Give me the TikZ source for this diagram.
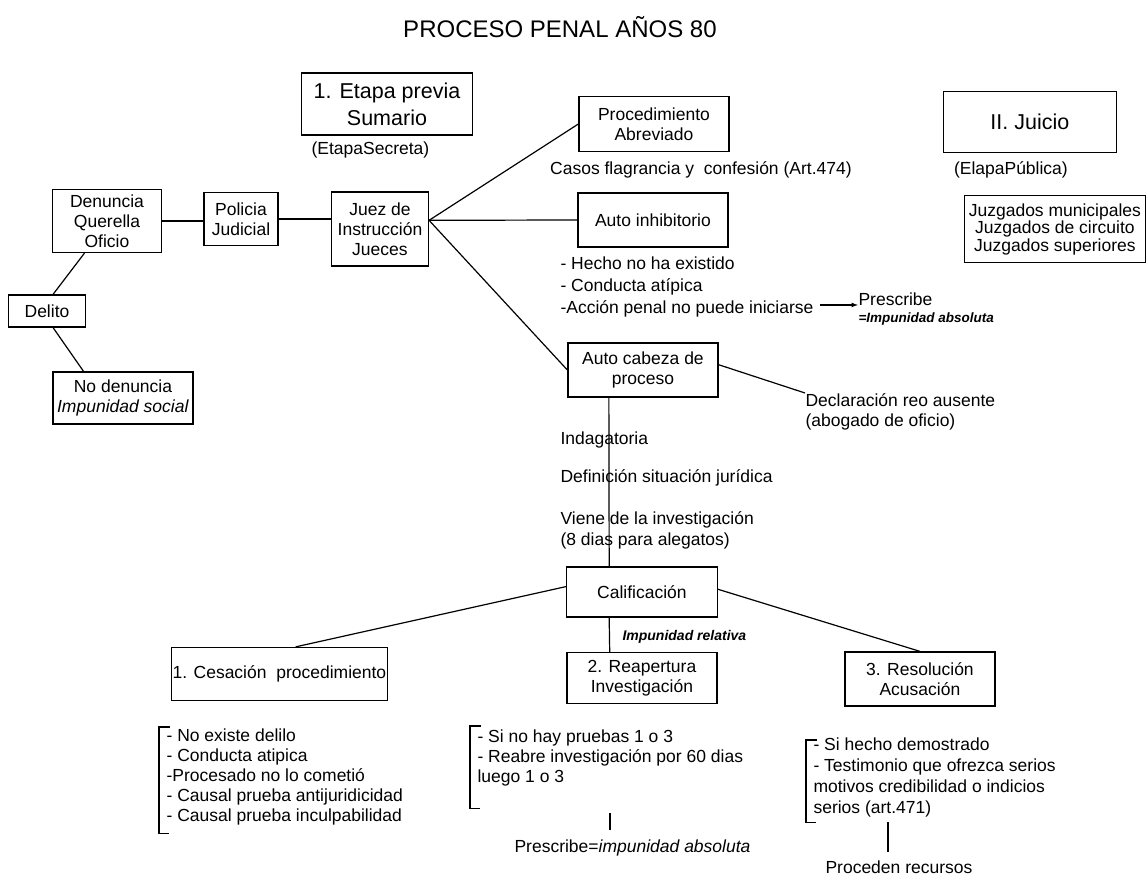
\documentclass[tikz,border=0pt]{standalone}
\usepackage{fontspec}
\setmainfont{Liberation Sans}
\begin{document}
\begin{tikzpicture}[x=1pt, y=-1pt, line width=1.2pt,
    font=\fontsize{17.5}{20}\selectfont,
    box/.style = {draw, align=center, inner sep=1pt},
    txt/.style = {inner sep=0pt, align=left},
    big/.style = {font=\fontsize{21.5}{27}\selectfont},
    imp/.style = {inner sep=0pt, font=\fontsize{14}{16}\selectfont\bfseries\itshape}]
  \fill[white] (0,0) rectangle (1146,878);
  \node[font=\fontsize{24}{28}\selectfont] (title) at (560,27) {PROCESO PENAL AÑOS 80};

  % etapa previa
  \node[box, big, minimum width=171, minimum height=62] (etapa) at (387,104) {1. Etapa previa\\Sumario};
  \node[txt, anchor=west] (secreta) at (311,150) {(EtapaSecreta)};
  \node[box, minimum width=181, minimum height=67, font=\fontsize{17.5}{17.5}\selectfont] (juzg) at (1055,229) {Juzgados municipales\\Juzgados de circuito\\Juzgados superiores};
  \node[box, big, minimum width=173, minimum height=61] (juicio) at (1030,122) {II. Juicio};
  \node (publica) at (1011,170) {(ElapaPública)};

  \node[box, minimum width=109, minimum height=63] (den) at (107,221) {Denuncia\\Querella\\Oficio};
  \node[box, minimum width=74, minimum height=53] (pol) at (241,219) {Policia\\Judicial};
  \node[box, minimum width=97, minimum height=74] (juez) at (380,229) {Juez de\\Instrucción\\Jueces};
  \node[box, minimum width=77, minimum height=32] (del) at (47,311) {Delito};
  \node[box, minimum width=140, minimum height=52] (nod) at (123,398) {No denuncia\\\textit{Impunidad social}};

  \node[box, minimum width=150, minimum height=55] (proc) at (654,124) {Procedimiento\\Abreviado};
  \node (casos) at (701,170) {Casos flagrancia y~ confesión (Art.474)};
  \node[box, minimum width=150, minimum height=54] (inhib) at (653,220) {Auto inhibitorio};
  \node[txt, anchor=north west, font=\fontsize{17.5}{22}\selectfont] (inhlist) at (560,256) {- Hecho no ha existido\\- Conducta atípica\\-Acción penal no puede iniciarse};
  \node[txt, anchor=west] (presc) at (858,309) {Prescribe\\[-3pt]{\fontsize{13.5}{15}\selectfont\bfseries\itshape =Impunidad absoluta}};
  \coordinate (arr) at (820,305);

  \node[box, minimum width=150, minimum height=54] (acp) at (643,370) {Auto cabeza de\\proceso};
  \node[txt, anchor=north west] (decl) at (805,393) {Declaración reo ausente\\(abogado de oficio)};
  \node[txt, anchor=west] (indag) at (560,440) {Indagatoria};
  \node[txt, anchor=west] (defin) at (560,478) {Definición situación jurídica};
  \node[txt, anchor=west, font=\fontsize{17.5}{21}\selectfont] (viene) at (560,530) {Viene de la investigación\\(8 dias para alegatos)};

  % calificacion
  \node[box, minimum width=151, minimum height=50] (cal) at (642,592) {Calificación};
  \node[imp, anchor=west] (relat) at (622,637) {Impunidad relativa};
  \node[box, minimum height=53, anchor=west] (ces) at (171,674) {1. Cesación~ procedimiento};
  \node[box, minimum width=150, minimum height=51] (reap) at (642,678) {2. Reapertura\\Investigación};
  \node[box, minimum width=150, minimum height=54] (res) at (920,679) {3. Resolución\\Acusación};

  \node[txt, anchor=north west] (ceslist) at (166,728) {- No existe delilo\\- Conducta atipica\\-Procesado no lo cometió\\- Causal prueba antijuridicidad\\- Causal prueba inculpabilidad};
  \node[txt, anchor=north west] (reaplist) at (477,729) {- Si no hay pruebas 1 o 3\\- Reabre investigación por 60 dias\\luego 1 o 3};
  \node[txt, anchor=north west, font=\fontsize{17.5}{21}\selectfont] (reslist) at (813,737) {- Si hecho demostrado\\- Testimonio que ofrezca serios\\motivos credibilidad o indicios\\serios (art.471)};
  \node[txt, anchor=west] (presc2) at (514,848) {Prescribe=\textit{impunidad absoluta}};
  \node[txt, anchor=west] (rec) at (825,867) {Proceden recursos};
  \coordinate (r1) at (610,813);
  \coordinate (r2) at (888,822);

  % connectors
  \draw (den.east) -- (den.east -| pol.west);
  \draw (pol.east) -- (pol.east -| juez.west);
  \draw (den.235) -- (del.70);
  \draw (del.-70) -- (nod.146);
  \draw (juez.10) -- (proc.west);
  \draw (juez.10) -- (inhib.west);
  \draw (juez.10) -- (acp.west);
  \draw[-latex] (arr) -- (presc.west |- arr);
  \draw (acp.4) -- (decl.north west);
  \draw (acp.219) -- (cal.142);
  \draw (cal.218) -- (reap.141);
  \draw (cal.176) -- (ces.59);
  \draw (cal.2) -- (res.north);

  % brackets
  \draw ([xshift=4pt,yshift=1pt]ceslist.north west) -| ([xshift=-7pt,yshift=-8pt]ceslist.south west) -- ++(10,0);
  \draw ([xshift=4pt,yshift=3pt]reaplist.north west) -| ([xshift=-7pt,yshift=-22pt]reaplist.south west) -- ++(10,0);
  \draw ([xshift=4pt,yshift=-3pt]reslist.north west) -| ([xshift=-7pt,yshift=-5pt]reslist.south west) -- ++(10,0);
  \draw (r1) -- ([yshift=9pt]r1 |- presc2.north);
  \draw (r2) -- ([yshift=8pt]r2 |- rec.north);
\end{tikzpicture}
\end{document}
